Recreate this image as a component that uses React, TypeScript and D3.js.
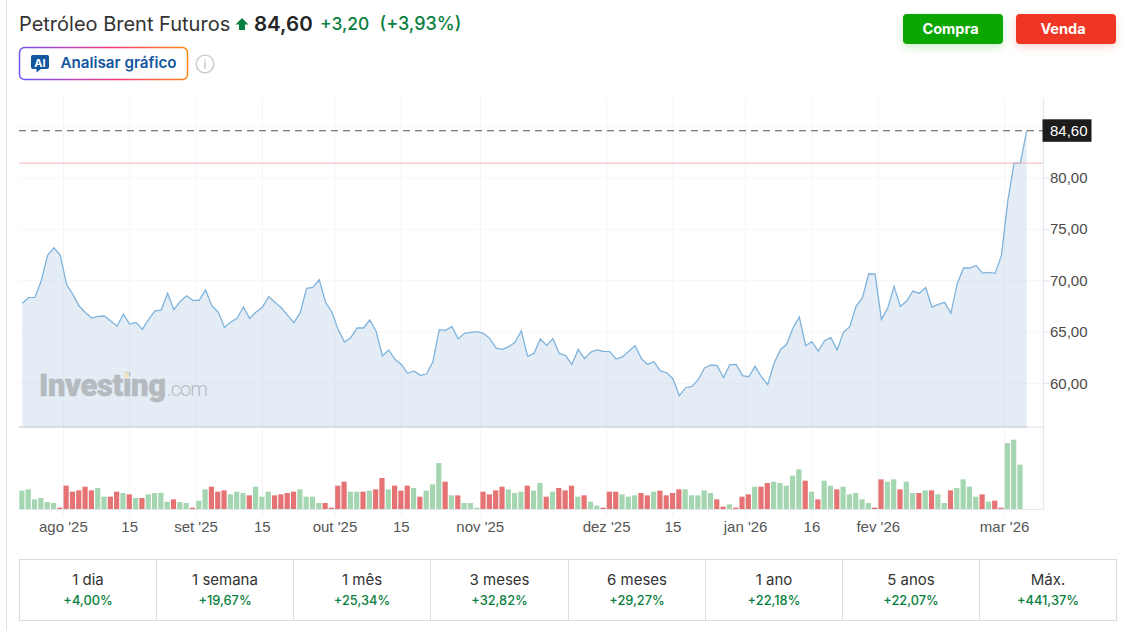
import React from 'react';
import * as d3 from 'd3';

const prices: number[] = [
  67.80,68.35,68.38,70.00,72.47,73.21,72.50,69.65,68.67,67.54,66.89,66.37,66.53,66.57,66.08,65.59,66.76,65.79,65.95,65.27,
  66.24,67.08,67.15,68.77,67.18,67.99,68.54,68.09,68.09,69.10,67.57,66.96,65.46,65.98,66.34,67.44,66.34,66.96,67.41,68.45,
  67.90,67.38,66.63,65.92,66.89,69.26,69.35,70.10,67.93,66.96,65.27,64.04,64.46,65.40,65.40,66.18,65.11,62.68,63.26,62.35,
  61.86,60.99,61.22,60.79,60.92,62.12,65.24,65.17,65.56,64.36,64.88,64.98,65.04,64.88,64.39,63.45,63.32,63.58,64.00,65.11,
  62.64,62.93,64.33,63.71,64.36,62.93,62.71,61.86,63.32,62.42,63.06,63.26,63.13,63.10,62.38,62.58,63.13,63.68,62.42,61.86,
  62.12,61.22,61.05,60.47,58.82,59.59,59.72,60.37,61.51,61.80,61.73,60.57,61.83,61.86,60.76,60.66,61.67,60.66,59.89,61.96,
  63.29,63.81,65.40,66.47,63.68,64.07,63.16,64.17,64.46,63.26,65.01,65.53,67.54,68.35,70.68,70.65,66.24,67.34,69.45,67.51,
  68.03,69.00,68.77,69.35,67.44,67.70,67.90,66.83,69.71,71.24,71.24,71.49,70.75,70.81,70.72,72.47,77.72,81.45,81.45,84.60,
];
const volumes: number[] = [
  55,59,29,33,21,18,4,70,52,56,67,56,63,37,37,52,48,44,33,33,
  44,48,48,22,29,21,18,4,25,59,67,52,56,44,52,48,41,67,37,52,
  41,44,48,52,59,37,37,18,18,4,70,82,52,52,52,55,59,93,59,70,
  55,70,63,37,55,74,138,82,41,41,18,18,4,52,44,56,67,59,48,52,
  70,55,78,37,52,63,56,70,37,41,22,10,4,52,52,44,37,41,48,41,
  52,55,41,48,59,59,41,41,56,48,29,7,14,4,37,44,67,67,78,82,
  78,70,100,119,85,52,29,85,70,59,67,44,48,29,18,4,89,82,89,59,
  82,48,48,56,56,44,18,56,63,89,67,37,44,22,25,4,198,208,133,0,
];
const greenIdx: number[] = [
  0,1,2,3,4,5,12,13,16,18,20,21,22,23,25,26,28,29,33,34,35,37,38,39,44,45,46,47,52,53,55,
  58,62,64,65,66,68,70,71,72,77,78,79,81,82,84,88,90,91,95,96,97,100,105,106,107,108,109,112,
  116,119,120,121,122,123,125,127,128,130,131,132,133,134,137,138,140,141,143,145,146,148,149,150,151,153,156,157,158,
];
const yTicks: number[] = [60, 65, 70, 75, 80, 85];
const xTickIdx: number[] = [6.5, 17, 27.5, 38, 49.5, 60, 72.5, 92.5, 103, 114.5, 125, 135.5, 155.5];
const xTickLabels: string[] = ["ago '25", '15', "set '25", '15', "out '25", '15', "nov '25", "dez '25", '15', "jan '26", '16', "fev '26", "mar '26"];
const periods: string[] = ['1 dia', '1 semana', '1 mês', '3 meses', '6 meses', '1 ano', '5 anos', 'Máx.'];
const changes: string[] = ['+4,00%', '+19,67%', '+25,34%', '+32,82%', '+29,27%', '+22,18%', '+22,07%', '+441,37%'];
const cellEdges: number[] = [19.5, 156.5, 293.5, 430.5, 568.5, 705.5, 842.5, 979.5, 1116.5];
const lastPrice = 84.6;
const prevClose = 81.45;

const INTER = 'Inter, sans-serif';
const ARIAL = '"Liberation Sans", Arial, sans-serif';
const UP = '#0a8040';

export default function App() {
  const x = d3.scaleLinear().domain([0, prices.length - 1]).range([22.3, 1026.7]);
  const y = d3.scaleLinear().domain([60, 80]).range([383.5, 178]);
  const v = d3.scaleLinear().domain([0, 208]).range([509, 439.7]);
  const baseY = 427;
  const line = d3.line<number>().x((_, i) => x(i)).y((d) => y(d));
  const area = d3.area<number>().x((_, i) => x(i)).y0(baseY).y1((d) => y(d));
  const greens = new Set(greenIdx);

  return (
    <svg width={1131} height={630} style={{ position: 'absolute', left: 0, top: 0, display: 'block', background: '#fff' }}>
      <defs>
        <linearGradient id="aiGrad" gradientUnits="userSpaceOnUse" x1="19" y1="80" x2="188" y2="47">
          <stop offset="0" stopColor="#6a55ff" />
          <stop offset="0.55" stopColor="#f2387c" />
          <stop offset="1" stopColor="#ff8a10" />
        </linearGradient>
      </defs>
      <line x1={6.5} x2={6.5} y1={0} y2={630} stroke="#dfdfdf" />

      {/* header */}
      <text x={19} y={31} fontFamily={INTER} fontSize={20} fill="#333">Petróleo Brent Futuros</text>
      <path d="M242 18 L248.5 24.5 L245 24.5 L245 30 L239 30 L239 24.5 L235.5 24.5 Z" fill={UP} />
      <text x={254} y={31} fontFamily={INTER} fontSize={20.5} fontWeight={600} fill="#232526">84,60</text>
      <text x={320} y={30} fontFamily={INTER} fontSize={17.4} fontWeight={500} fill={UP}>+3,20</text>
      <text x={379.5} y={30} fontFamily={INTER} fontSize={18} fontWeight={500} fill={UP}>(+3,93%)</text>

      <rect x={19.5} y={47.5} width={168} height={32} rx={5} fill="#fff" stroke="url(#aiGrad)" strokeWidth={1.5} />
      <path d="M33 55 H47 Q49 55 49 57 V67 Q49 69 47 69 H41 L36.5 72.5 V69 H33 Q31 69 31 67 V57 Q31 55 33 55 Z" fill="#1256a0" />
      <text x={40} y={67} textAnchor="middle" fontFamily={INTER} fontSize={11} fontWeight={700} fill="#fff">AI</text>
      <text x={60.5} y={68} fontFamily={INTER} fontSize={15.2} fontWeight={600} fill="#1256a0">Analisar gráfico</text>
      <circle cx={205} cy={64} r={8.8} fill="none" stroke="#c8c8c8" strokeWidth={1.3} />
      <text x={205} y={69} textAnchor="middle" fontFamily={INTER} fontSize={12} fill="#b8b8b8">i</text>

      <rect x={903} y={14} width={100} height={30} rx={4} fill="#0ba600" style={{ filter: 'drop-shadow(0 3px 4px rgba(11,166,0,0.22))' }} />
      <text x={950.5} y={34} textAnchor="middle" fontFamily={INTER} fontSize={14.5} fontWeight={700} fill="#fff">Compra</text>
      <rect x={1016} y={14} width={100} height={30} rx={4} fill="#ef3624" style={{ filter: 'drop-shadow(0 3px 4px rgba(239,54,36,0.22))' }} />
      <text x={1063} y={34} textAnchor="middle" fontFamily={INTER} fontSize={14.5} fontWeight={700} fill="#fff">Venda</text>

      {/* grid */}
      {yTicks.map((t) => (
        <line key={t} x1={19} x2={1043} y1={y(t)} y2={y(t)} stroke="#f5f6f8" />
      ))}
      {xTickIdx.map((t, i) => (
        <line key={i} x1={x(t)} x2={x(t)} y1={98} y2={516} stroke="#f2f3f6" />
      ))}

      {/* price */}
      <path d={area(prices) ?? ''} fill="#c3d7e9" fillOpacity={0.45} />
      <path d={line(prices) ?? ''} fill="none" stroke="#7fb3dc" strokeWidth={1.3} />

      {/* watermark */}
      <text x={39} y={396} fontFamily="Roboto, sans-serif" fontSize={31} fontWeight={900} fill="#b5babf" stroke="#b5babf" strokeWidth={0.5} textLength={127}>Investing</text>
      <rect x={124} y={372.5} width={5} height={5.5} fill="#f0e2c6" />
      <text x={167} y={396} fontFamily="Roboto, sans-serif" fontSize={20} fontWeight={300} fill="#b5babf" textLength={41}>.com</text>

      <line x1={19} x2={1043} y1={y(prevClose)} y2={y(prevClose)} stroke="#f2b3b3" strokeWidth={1} />
      <line x1={19} x2={1043} y1={y(lastPrice)} y2={y(lastPrice)} stroke="#555" strokeWidth={1.1} strokeDasharray="7 5" />
      <line x1={19} x2={1027} y1={baseY} y2={baseY} stroke="#d0d6df" strokeWidth={1.4} />
      <line x1={1027} x2={1043} y1={baseY} y2={baseY} stroke="#e9ecf1" strokeWidth={1.4} />

      {/* volume */}
      {volumes.map((d, i) => (
        <rect key={i} x={x(i) - 3} y={v(d)} width={5.2} height={v(0) - v(d)} fill={greens.has(i) ? '#a5d6b2' : '#e57373'} />
      ))}
      <line x1={19} x2={1043} y1={509.5} y2={509.5} stroke="#e2e6ee" strokeWidth={1.2} />
      <line x1={1043.5} x2={1043.5} y1={98} y2={510} stroke="#e2e6ee" strokeWidth={1.2} />

      {/* axes */}
      {yTicks.map((t) => (
        <g key={t}>
          <line x1={1043} x2={1049} y1={y(t)} y2={y(t)} stroke="#e2e6ee" />
          <text x={1050} y={y(t) + (t === 85 ? 3 : 5)} fontFamily={ARIAL} fontSize={15} fill="#4a4a4a">{t.toFixed(2).replace('.', ',')}</text>
        </g>
      ))}
      <rect x={1042.5} y={119.3} width={49} height={22.5} fill="#1c1c1c" />
      <text x={1050} y={135.7} fontFamily={ARIAL} fontSize={15} fill="#fff">{lastPrice.toFixed(2).replace('.', ',')}</text>
      {xTickIdx.map((t, i) => (
        <text key={i} x={x(t)} y={532} textAnchor="middle" fontFamily={ARIAL} fontSize={15} fill="#555">{xTickLabels[i]}</text>
      ))}

      {/* performance table */}
      <rect x={19.5} y={559.5} width={1097} height={61} fill="none" stroke="#dcdcdc" />
      {cellEdges.slice(1, -1).map((e) => (
        <line key={e} x1={e} x2={e} y1={559.5} y2={620.5} stroke="#dcdcdc" />
      ))}
      {periods.map((p, i) => {
        const cx = (cellEdges[i] + cellEdges[i + 1]) / 2;
        return (
          <g key={p}>
            <text x={cx} y={585} textAnchor="middle" fontFamily={INTER} fontSize={15} fill="#333">{p}</text>
            <text x={cx} y={605} textAnchor="middle" fontFamily={INTER} fontSize={12.8} fontWeight={500} fill={UP}>{changes[i]}</text>
          </g>
        );
      })}
    </svg>
  );
}
